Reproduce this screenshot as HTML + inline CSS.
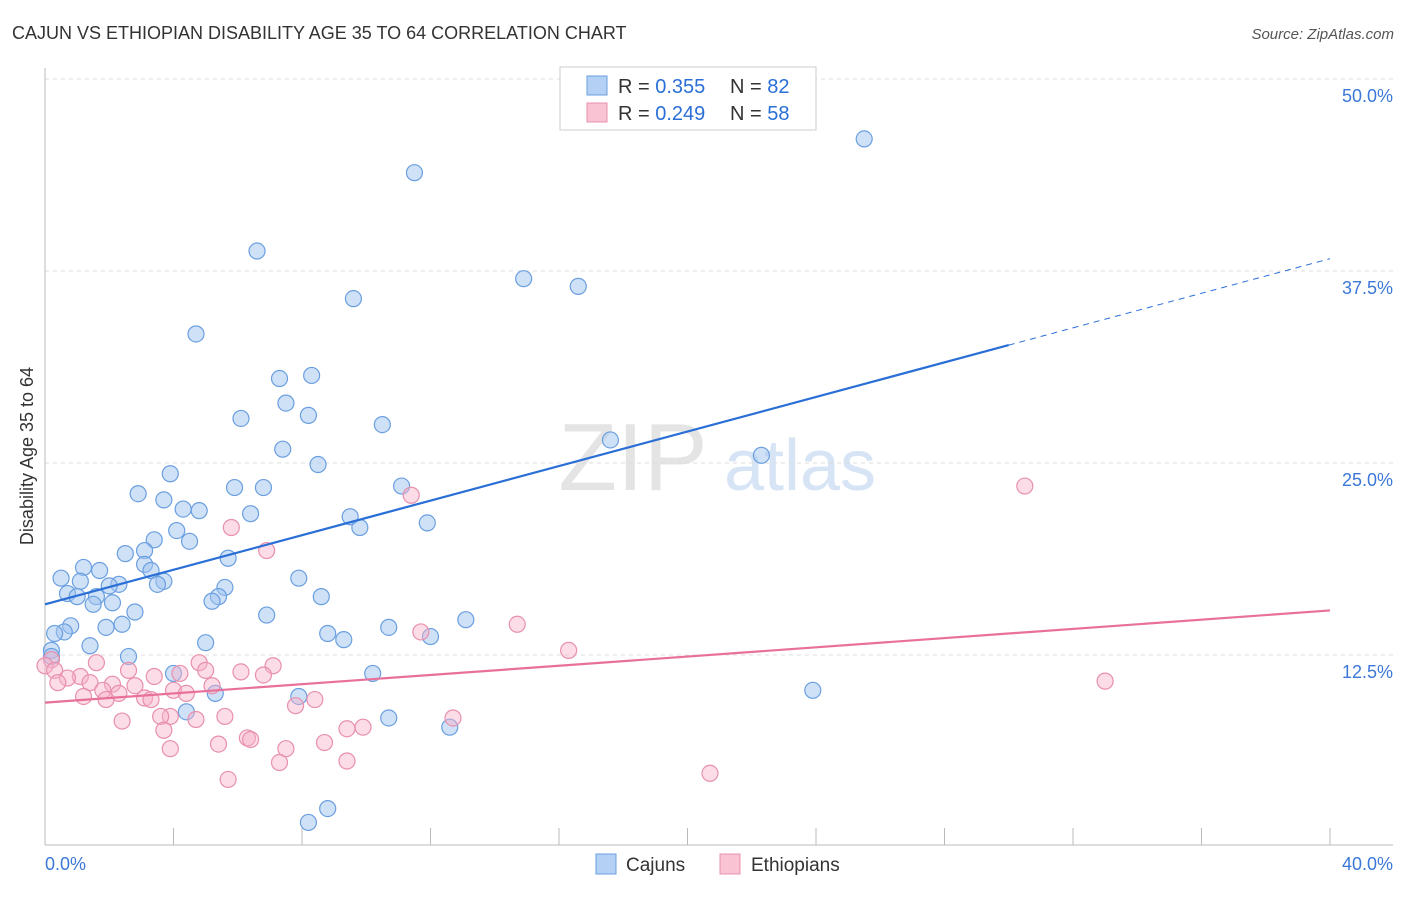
<!DOCTYPE html>
<html><head><meta charset="utf-8"><style>
body{margin:0;background:#fff;font-family:"Liberation Sans",sans-serif;}
svg text{font-family:"Liberation Sans",sans-serif;}
</style></head><body>
<svg id="chart" width="1406" height="892" xmlns="http://www.w3.org/2000/svg">
<text x="12" y="39" font-size="18" fill="#333">CAJUN VS ETHIOPIAN DISABILITY AGE 35 TO 64 CORRELATION CHART</text>
<text x="1394" y="39" font-size="15" fill="#555" font-style="italic" text-anchor="end">Source: ZipAtlas.com</text>
<text x="0" y="0" font-size="18" fill="#333" transform="translate(33,456) rotate(-90)" text-anchor="middle">Disability Age 35 to 64</text>
<g><text x="633" y="490" font-size="96" font-family="Liberation Serif" fill="#e4e4e4" text-anchor="middle">ZIP</text><text x="800" y="490" font-size="72" fill="#d6e4f5" text-anchor="middle">atlas</text></g>
<g id="grid"></g><g id="axes"></g><g id="marks"></g><g id="lines"></g>
<g>
<rect x="560" y="67" width="256" height="63" fill="#fff" stroke="#ccc"/>
<rect x="587" y="76" width="20" height="19" fill="#b4d0f4" stroke="#6a9fe0"/>
<rect x="587" y="103" width="20" height="19" fill="#f9c3d4" stroke="#e890ac"/>
<text x="618" y="93" font-size="20" fill="#333">R = <tspan fill="#2a6fd6">0.355</tspan></text>
<text x="730" y="93" font-size="20" fill="#333">N = <tspan fill="#2a6fd6">82</tspan></text>
<text x="618" y="120" font-size="20" fill="#333">R = <tspan fill="#2a6fd6">0.249</tspan></text>
<text x="730" y="120" font-size="20" fill="#333">N = <tspan fill="#2a6fd6">58</tspan></text>
</g>
<g>
<rect x="596" y="854" width="20" height="20" fill="#b4d0f4" stroke="#6a9fe0"/>
<text x="626" y="871" font-size="19" fill="#333">Cajuns</text>
<rect x="720" y="854" width="20" height="20" fill="#f9c3d4" stroke="#e890ac"/>
<text x="751" y="871" font-size="19" fill="#333">Ethiopians</text>
</g>
</svg>
<script>
const yTicks=[12.5,25,37.5,50];
const yTickLabels=["12.5%","25.0%","37.5%","50.0%"];
const xTicks=[0,4,8,12,16,20,24,28,32,36,40];
const xEndLabels=["0.0%","40.0%"];
const cajunX=[25.5,11.5,6.6,14.9,16.6,9.6,4.7,7.3,8.3,7.5,8.2,6.1,10.5,17.6,7.4,22.3,8.5,3.9,2.9,5.9,6.8,11.1,3.7,4.3,4.8,6.4,9.5,9.8,11.9,4.1,4.5,3.4,3.1,2.5,5.7,3.1,3.3,1.2,1.7,0.5,7.9,1.1,2.3,2.0,3.7,3.5,5.6,0.7,1.0,1.6,5.4,8.6,5.2,1.5,2.1,2.8,6.9,13.1,2.4,1.9,0.8,0.6,0.3,10.7,8.8,9.3,12.0,5.0,1.4,0.2,0.2,2.6,4.0,10.2,23.9,5.3,7.9,4.4,10.7,12.6,8.8,8.2];
const cajunY=[46.1,43.9,38.8,37.0,36.5,35.7,33.4,30.5,30.7,28.9,28.1,27.9,27.5,26.5,25.9,25.5,24.9,24.3,23.0,23.4,23.4,23.5,22.6,22.0,21.9,21.7,21.5,20.8,21.1,20.6,19.9,20.0,19.3,19.1,18.8,18.4,18.0,18.2,18.0,17.5,17.5,17.3,17.1,17.0,17.3,17.1,16.9,16.5,16.3,16.3,16.3,16.3,16.0,15.8,15.9,15.3,15.1,14.8,14.5,14.3,14.4,14.0,13.9,14.3,13.9,13.5,13.7,13.3,13.1,12.8,12.4,12.4,11.3,11.3,10.2,10.0,9.8,8.8,8.4,7.8,2.5,1.6];
const ethX=[30.5,11.4,5.8,6.9,14.7,11.7,16.3,1.6,0.2,0.0,7.1,0.3,4.8,5.0,6.1,6.8,4.2,2.6,3.4,1.1,0.7,1.4,0.4,33.0,2.1,2.8,5.2,1.8,4.0,4.4,3.1,2.3,1.2,1.9,3.3,8.4,7.8,3.9,5.6,2.4,3.6,4.7,12.7,9.4,9.9,3.7,6.3,6.4,8.7,5.4,3.9,7.5,7.3,9.4,20.7,5.7];
const ethY=[23.5,22.9,20.8,19.3,14.5,14.0,12.8,12.0,12.2,11.8,11.8,11.5,12.0,11.5,11.4,11.2,11.3,11.5,11.1,11.1,11.0,10.7,10.7,10.8,10.6,10.5,10.5,10.2,10.2,10.0,9.7,10.0,9.8,9.6,9.6,9.6,9.2,8.5,8.5,8.2,8.5,8.3,8.4,7.7,7.8,7.6,7.1,7.0,6.8,6.7,6.4,6.4,5.5,5.6,4.8,4.4];
const cajunTrend=[15.8,38.3];
const ethTrend=[9.4,15.4];
const cajunSolidEnd=30.0;

const NS="http://www.w3.org/2000/svg";
const X=v=>45+v*(1285/40);
const Y=v=>847-v*15.36;
function mk(tag,attrs,parent){const e=document.createElementNS(NS,tag);for(const k in attrs)e.setAttribute(k,attrs[k]);document.getElementById(parent).appendChild(e);return e;}

yTicks.forEach((t,i)=>{
 const g=mk('line',{x1:45,x2:1393,y1:Y(t),y2:Y(t),stroke:'#ddd','stroke-dasharray':'4,4'},'grid');
 
 
 const l=mk('text',{x:1393,y:Y(t)+23,'font-size':18,fill:'#3b78d8','text-anchor':'end'},'grid');
 l.textContent=yTickLabels[i];
 
 
});
const ax=mk('line',{x1:45,x2:1393,y1:845,y2:845,stroke:'#bbb'},'axes');


const ay=mk('line',{x1:45,x2:45,y1:68,y2:845,stroke:'#bbb'},'axes');


xTicks.forEach(t=>{
 const k=mk('line',{x1:X(t),x2:X(t),y1:828,y2:845,stroke:'#bbb'},'axes');
 
 
});
const xl0=mk('text',{x:45,y:870,'font-size':18,fill:'#3b78d8'},'axes');xl0.textContent=xEndLabels[0];


const xl1=mk('text',{x:1393,y:870,'font-size':18,fill:'#3b78d8','text-anchor':'end'},'axes');xl1.textContent=xEndLabels[1];



cajunX.forEach((x,i)=>{
 const c=mk('circle',{cx:X(x),cy:Y(cajunY[i]),r:8,fill:'rgba(160,196,240,0.5)',stroke:'#6a9fe0','stroke-width':1.2},'marks');
 
 
});
ethX.forEach((x,i)=>{
 const c=mk('circle',{cx:X(x),cy:Y(ethY[i]),r:8,fill:'rgba(247,178,202,0.45)',stroke:'#e890ac','stroke-width':1.2},'marks');
 
 
});
const cy=x=>cajunTrend[0]+(cajunTrend[1]-cajunTrend[0])*x/40;
const l1=mk('line',{x1:X(0),y1:Y(cy(0)),x2:X(cajunSolidEnd),y2:Y(cy(cajunSolidEnd)),stroke:'#2a6fd6','stroke-width':2.2},'lines');


const l2=mk('line',{x1:X(cajunSolidEnd),y1:Y(cy(cajunSolidEnd)),x2:X(40),y2:Y(cy(40)),stroke:'#2a6fd6','stroke-width':1,'stroke-dasharray':'6,5'},'lines');


const l3=mk('line',{x1:X(0),y1:Y(ethTrend[0]),x2:X(40),y2:Y(ethTrend[1]),stroke:'#e8709a','stroke-width':2.2},'lines');


</script>
</body></html>
